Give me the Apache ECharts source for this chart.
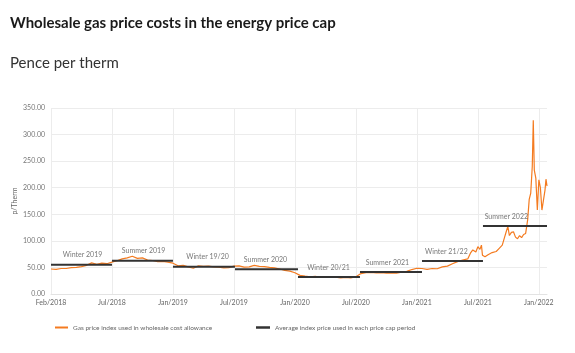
<!DOCTYPE html>
<html>
<head>
<meta charset="utf-8">
<script src="https://cdn.jsdelivr.net/npm/echarts@6/dist/echarts.min.js"></script>
<style>
  html, body { margin: 0; padding: 0; background: #fff; }
  #chart { width: 575px; height: 353px; }
</style>
</head>
<body>
<div id="chart"></div>
<script>
// x values are months counted from the first tick (Feb/2018)
const tickLabels = ['Feb/2018', 'Jul/2018', 'Jan/2019', 'Jul/2019', 'Jan/2020', 'Jul/2020', 'Jan/2021', 'Jul/2021', 'Jan/2022'];

// gas price index (p/therm)
const priceMonths = [
  0, 0.5, 1, 1.5, 2, 2.5, 3, 3.5, 4, 4.5, 5, 5.5, 6, 6.5, 7, 7.5, 8, 8.5, 9, 9.5,
  10, 10.5, 11, 11.5, 12, 12.5, 13, 13.5, 14, 14.5, 15, 15.5, 16, 16.5, 17, 17.5, 18, 18.5, 19, 19.5,
  20, 20.5, 21, 21.5, 22, 22.5, 23, 23.5, 24, 24.5, 25, 25.5, 26, 26.5, 27, 27.5, 28, 28.5, 29, 29.5,
  30, 30.5, 31, 31.5, 32, 32.5, 33, 33.5, 34, 34.5, 35, 35.5, 36, 36.5, 37, 37.5, 38, 38.5, 39, 39.5,
  40, 40.5, 41, 41.3, 41.5, 41.8, 42, 42.2, 42.35, 42.45, 42.7, 43, 43.4, 43.8, 44.1, 44.4, 44.6, 44.8, 44.95,
  45.1, 45.3, 45.5, 45.7, 45.9, 46.1, 46.3, 46.5, 46.7, 46.9, 47.05, 47.2, 47.35, 47.45, 47.55, 47.7, 47.85,
  48, 48.15, 48.3, 48.45, 48.6, 48.7, 48.8
];
const priceValues = [
  47, 46.5, 48, 48, 49.5, 50, 51.5, 54, 58.5, 56, 58, 57, 60, 62.5, 66, 68, 71, 67, 68, 64,
  63, 61, 61.5, 60, 58, 53, 54, 51, 48.5, 53, 52, 52.5, 51, 50.5, 49, 49.5, 52.5, 53, 50.5, 51,
  54, 52, 51.5, 50, 49, 47, 44.5, 43, 40, 35, 33.5, 32.5, 33, 31.5, 32, 31, 31.5, 30.5, 31, 30.5,
  32.5, 38.5, 40, 40.5, 39.5, 40, 39, 39.5, 39, 41, 42.5, 46, 48.5, 48, 46.5, 48, 47.5, 51, 52.5, 57,
  61, 64, 66, 78, 83, 79, 89, 84, 92, 73, 70, 74, 78, 80, 86, 92, 105, 118, 127,
  110, 116, 117, 107, 104, 110, 106, 112, 114, 140, 178, 190, 240, 327, 233, 218, 158,
  215, 200, 158, 155, 195, 216, 203
];

// price cap periods: averaging window start/end (months) and average price
const periodNames = ['Winter 2019', 'Summer 2019', 'Winter 19/20', 'Summer 2020', 'Winter 20/21', 'Summer 2021', 'Winter 21/22', 'Summer 2022'];
const periodStart = [0, 6, 12, 18.1, 24.3, 30.4, 36.5, 42.5];
const periodEnd = [6, 12, 18.1, 24.3, 30.4, 36.5, 42.5, 48.8];
const periodAvg = [55.2, 62.7, 51.4, 46.4, 32, 41.4, 62, 128];
const periodLabelAt = [3.1, 9.1, 15.4, 21.1, 27.3, 33.1, 38.9, 44.8];

const priceName = 'Gas price index used in wholesale cost allowance';
const avgName = 'Average index price used in each price cap period';

const priceData = priceMonths.map((m, i) => [m, priceValues[i]]);
const avgData = [];
periodNames.forEach((n, i) => {
  if (i > 0) avgData.push([periodStart[i], '-']);
  avgData.push([periodStart[i], periodAvg[i]]);
  avgData.push([periodEnd[i], periodAvg[i]]);
});
const labelData = periodNames.map((n, i) => ({ value: [periodLabelAt[i], periodAvg[i]], name: n }));
// vertical grid lines only at the labelled ticks
const tickLines = tickLabels.map((t, i) => ({ xAxis: i * 6 }));

const chart = echarts.init(document.getElementById('chart'));
const fontFamily = 'Lato, "Open Sans", sans-serif';

chart.setOption({
  animation: false,
  textStyle: { fontFamily: fontFamily },
  title: [{
    text: 'Wholesale gas price costs in the energy price cap',
    left: 5, top: 11,
    textStyle: { fontSize: 15, fontWeight: 'bold', color: '#1a1a1a', fontFamily: fontFamily }
  }, {
    text: 'Pence per therm',
    left: 5, top: 51,
    textStyle: { fontSize: 15, fontWeight: 'normal', color: '#333', fontFamily: fontFamily }
  }],
  legend: [{
    data: [priceName],
    left: 50, top: 319,
    icon: 'rect', itemWidth: 13, itemHeight: 2,
    textStyle: { fontSize: 6.5, color: '#666' }
  }, {
    data: [avgName],
    left: 251, top: 319,
    icon: 'rect', itemWidth: 14, itemHeight: 2.5,
    textStyle: { fontSize: 6.5, color: '#666' }
  }],
  grid: { left: 51, right: 28, top: 108, bottom: 59, outerBoundsMode: 'none' },
  xAxis: {
    type: 'value',
    min: 0, max: 48.8, interval: 6,
    axisLine: { show: true, lineStyle: { color: '#e3e3e3' } },
    axisTick: { show: false },
    splitLine: { show: false },
    axisLabel: {
      margin: 5, fontSize: 7, color: '#666',
      showMaxLabel: false,
      formatter: v => (v % 6 === 0 ? tickLabels[v / 6] : '')
    }
  },
  yAxis: {
    type: 'value',
    min: 0, max: 350, interval: 50,
    name: 'p/Therm', nameLocation: 'middle', nameGap: 33,
    nameMoveOverlap: false,
    nameTextStyle: { fontSize: 7, color: '#666' },
    axisLine: { show: false },
    axisTick: { show: false },
    splitLine: { lineStyle: { color: '#ececec' } },
    axisLabel: { margin: 6, fontSize: 7, color: '#777', formatter: v => v.toFixed(2) }
  },
  series: [{
    name: priceName,
    type: 'line',
    data: priceData,
    symbol: 'none',
    lineStyle: { color: '#f47b20', width: 1.2 },
    itemStyle: { color: '#f47b20' },
    markLine: {
      silent: true,
      symbol: ['none', 'none'],
      label: { show: false },
      lineStyle: { color: '#ececec', type: 'solid', width: 1 },
      data: tickLines,
      z: 1
    },
    z: 2
  }, {
    name: avgName,
    type: 'line',
    data: avgData,
    symbol: 'none',
    connectNulls: false,
    lineStyle: { color: '#333', width: 2 },
    itemStyle: { color: '#333' },
    z: 3
  }, {
    name: 'labels',
    type: 'scatter',
    data: labelData,
    symbolSize: 0,
    silent: true,
    label: {
      show: true, position: 'top', distance: 6,
      formatter: p => p.name,
      fontSize: 7, color: '#555'
    },
    z: 4
  }]
});
</script>
</body>
</html>
